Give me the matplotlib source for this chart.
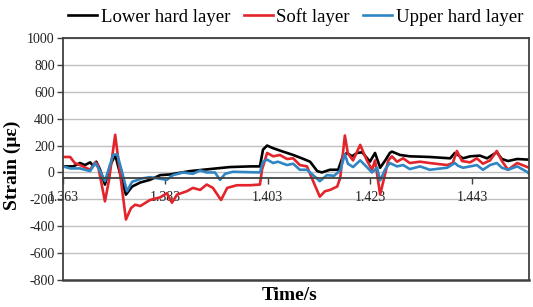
import matplotlib
matplotlib.use('Agg')
import matplotlib.pyplot as plt

# strain readings (με) vs time (s)
t_lower = [1.3630, 1.3650, 1.3663, 1.3673, 1.3683, 1.3689, 1.3695, 1.3702, 1.3712, 1.3722,
           1.3732, 1.3741, 1.3753, 1.3765, 1.3781, 1.3800, 1.3820, 1.3839, 1.3878, 1.3917,
           1.3956, 1.3996, 1.4015, 1.4021, 1.4029, 1.4041, 1.4060, 1.4080, 1.4097, 1.4113,
           1.4127, 1.4136, 1.4152, 1.4168, 1.4177, 1.4185, 1.4195, 1.4205, 1.4215, 1.4230,
           1.4240, 1.4250, 1.4260, 1.4269, 1.4273, 1.4289, 1.4308, 1.4347, 1.4387, 1.4396,
           1.4412, 1.4426, 1.4445, 1.4459, 1.4478, 1.4488, 1.4500, 1.4518, 1.4541]
lower = [45, 45, 70, 55, 75, 50, 80, 25, -90, 50,
         130, 0, -165, -105, -75, -55, -20, -15, 10, 25,
         40, 45, 45, 170, 200, 180, 155, 130, 105, 80,
         10, 0, 20, 20, 120, 145, 120, 145, 150, 80,
         145, 35, 90, 145, 155, 130, 120, 115, 105, 145,
         105, 120, 125, 105, 150, 100, 85, 100, 95]

t_soft = [1.3630, 1.3644, 1.3653, 1.3663, 1.3683, 1.3693, 1.3698, 1.3712, 1.3720, 1.3732,
          1.3739, 1.3753, 1.3763, 1.3771, 1.3781, 1.3800, 1.3820, 1.3833, 1.3843, 1.3853,
          1.3872, 1.3884, 1.3898, 1.3911, 1.3923, 1.3939, 1.3951, 1.3970, 1.3996, 1.4015,
          1.4019, 1.4029, 1.4041, 1.4054, 1.4068, 1.4080, 1.4093, 1.4107, 1.4119, 1.4132,
          1.4142, 1.4152, 1.4166, 1.4172, 1.4181, 1.4187, 1.4197, 1.4211, 1.4224, 1.4234,
          1.4240, 1.4250, 1.4256, 1.4266, 1.4273, 1.4283, 1.4295, 1.4308, 1.4328, 1.4347,
          1.4381, 1.4392, 1.4400, 1.4410, 1.4426, 1.4439, 1.4451, 1.4465, 1.4478, 1.4488,
          1.4500, 1.4518, 1.4541]
soft = [115, 115, 70, 55, 20, 75, 60, -215, -55, 280,
        70, -350, -265, -240, -250, -205, -185, -155, -225, -165,
        -140, -115, -130, -90, -115, -205, -115, -95, -95, -90,
        20, 145, 120, 130, 100, 105, 55, 45, -65, -180,
        -140, -130, -105, -40, 275, 140, 90, 205, 90, 20,
        90, -165, -70, 90, 120, 80, 105, 70, 80, 70,
        55, 70, 160, 85, 75, 105, 65, 90, 160, 85,
        20, 70, 35]

t_upper = [1.3630, 1.3644, 1.3663, 1.3683, 1.3693, 1.3702, 1.3712, 1.3728, 1.3736, 1.3745,
           1.3755, 1.3765, 1.3784, 1.3800, 1.3833, 1.3845, 1.3865, 1.3884, 1.3898, 1.3911,
           1.3927, 1.3937, 1.3947, 1.3962, 1.4015, 1.4021, 1.4029, 1.4041, 1.4050, 1.4068,
           1.4080, 1.4093, 1.4107, 1.4119, 1.4132, 1.4146, 1.4160, 1.4172, 1.4181, 1.4187,
           1.4197, 1.4211, 1.4224, 1.4234, 1.4244, 1.4250, 1.4260, 1.4269, 1.4283, 1.4295,
           1.4308, 1.4328, 1.4347, 1.4381, 1.4396, 1.4402, 1.4412, 1.4426, 1.4439, 1.4451,
           1.4465, 1.4478, 1.4488, 1.4500, 1.4518, 1.4537, 1.4541]
upper = [45, 30, 30, 10, 70, 15, -65, 130, 135, 10,
         -140, -70, -45, -35, -55, -20, 0, -10, 15, 0,
         0, -55, -10, 5, 0, 80, 95, 70, 80, 55,
         65, 20, 20, -20, -65, -20, -25, 15, 135, 65,
         40, 90, 40, 0, 35, -60, 25, 70, 45, 55,
         25, 45, 20, 35, 70, 50, 35, 45, 55, 20,
         55, 70, 35, 20, 45, 5, -10]

x_ticks = [1.363, 1.383, 1.403, 1.423, 1.443]
y_ticks = list(range(-800, 1001, 200))

plt.rcParams['font.family'] = ['Liberation Serif', 'DejaVu Serif']
plt.rcParams['axes.unicode_minus'] = False

fig = plt.figure(figsize=(5.33, 3.07), dpi=100)
ax = fig.add_axes([63/533, 1-280/307, 466/533, 242/307])

for yv in y_ticks:
    ax.axhline(yv, color='#c0c0c0', lw=1, zorder=0)

ax.plot(t_lower, lower, color='black', lw=1.9, label='Lower hard layer')
ax.plot(t_soft, soft, color='#e3242b', lw=1.9, label='Soft layer')
ax.plot(t_upper, upper, color='#2f86c3', lw=1.9, label='Upper hard layer')

ax.set_xlim(1.363, 1.4541)
ax.set_ylim(-800, 1000)
ax.set_yticks(y_ticks)
ax.set_xticks(x_ticks)
ax.set_xticklabels([f'{v:.3f}' for v in x_ticks])

# Excel-style: horizontal axis crosses a little below zero, frame around plot area
spine_col = '#404040'
ax.spines['bottom'].set_position(('data', -42))
ax.spines['bottom'].set_color(spine_col)
ax.spines['bottom'].set_linewidth(1.3)
for s in ['left', 'right', 'top']:
    ax.spines[s].set_color(spine_col)
    ax.spines[s].set_linewidth(1.3)
ax.axhline(-800, color=spine_col, lw=1.8, clip_on=False)

ax.tick_params(axis='y', direction='out', length=4, width=1, colors=spine_col,
               labelcolor='#222222', labelsize=10, pad=2)
ax.tick_params(axis='x', direction='out', length=4, width=1, colors=spine_col,
               labelcolor='#222222', labelsize=10, pad=5)

fig.text(12/533, 1-165/307, 'Strain (με)', rotation=90, ha='center', va='center',
         fontsize=14, fontweight='bold')
fig.text(290/533, 1-296/307, 'Time/s', ha='center', va='center',
         fontsize=14, fontweight='bold')

fig.legend(loc='upper center', bbox_to_anchor=(0.555, 1.03), ncol=3, frameon=False,
           fontsize=13.5, handlelength=1.55, handletextpad=0.2, columnspacing=0.7)

fig.savefig('out.png', dpi=100)
